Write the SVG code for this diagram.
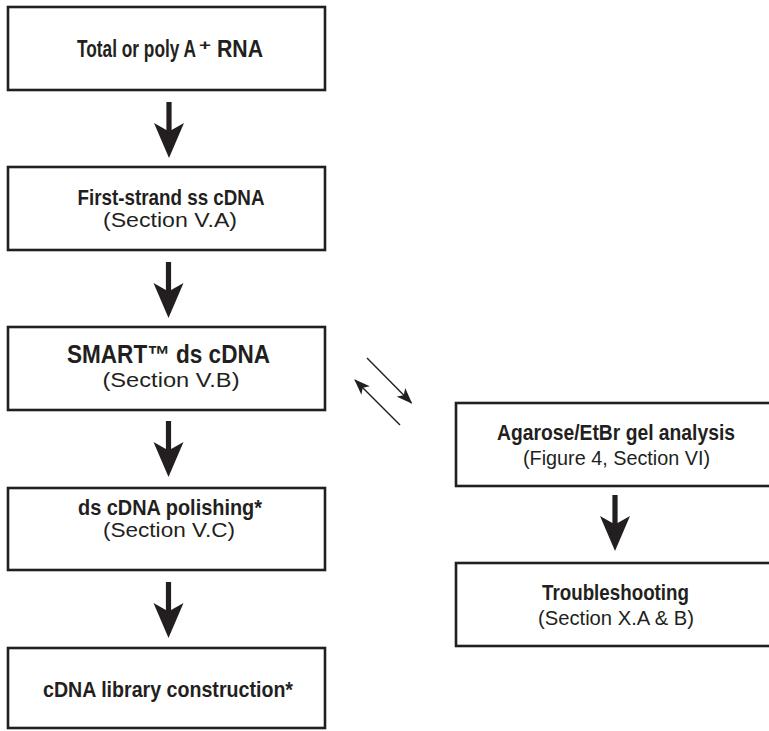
<svg xmlns="http://www.w3.org/2000/svg" width="769" height="731" viewBox="0 0 769 731">
<style>
.box{fill:#fff;stroke:#231f20;stroke-width:2.6}
.t{font-family:"Liberation Sans Narrow","Liberation Sans",Arial,sans-serif;font-weight:bold;fill:#231f20;text-anchor:middle}
.s{font-family:"Liberation Sans Narrow","Liberation Sans",Arial,sans-serif;fill:#231f20;text-anchor:middle;font-size:20.5px}
.arr{fill:#231f20}
.thin{stroke:#231f20;stroke-width:1.4;fill:none}
</style>
<defs>
<path id="bigArrow" d="M-2.6,0 L2.6,0 L2.6,28 L15,21 L0,56 L-15,21 L-2.6,28 Z"/>
<marker id="head" viewBox="0 0 16 12" refX="15" refY="6" markerWidth="16" markerHeight="12" markerUnits="userSpaceOnUse" orient="auto">
<path d="M0,0 L16,6 L0,12 L4,6 Z" fill="#231f20"/>
</marker>
</defs>
<g id="node-rna">
<rect class="box" x="8" y="7" width="317" height="83"/>
<text class="t" x="77" y="57" font-size="23" style="text-anchor:start" textLength="119" lengthAdjust="spacingAndGlyphs">Total or poly A</text>
<text class="t" x="199" y="50" font-size="15" style="text-anchor:start" textLength="12" lengthAdjust="spacingAndGlyphs">+</text>
<text class="t" x="217" y="57" font-size="23" style="text-anchor:start" textLength="46" lengthAdjust="spacingAndGlyphs">RNA</text>
</g>
<g id="node-first">
<rect class="box" x="8" y="167" width="317" height="83"/>
<text class="t" x="171" y="205" font-size="21.5" textLength="187" lengthAdjust="spacingAndGlyphs">First-strand ss cDNA</text>
<text class="s" x="170" y="227" textLength="134" lengthAdjust="spacingAndGlyphs">(Section V.A)</text>
</g>
<g id="node-smart">
<rect class="box" x="8" y="327" width="317" height="83"/>
<text class="t" x="168.5" y="363" font-size="25" textLength="203" lengthAdjust="spacingAndGlyphs">SMART™ ds cDNA</text>
<text class="s" x="171" y="387" textLength="137" lengthAdjust="spacingAndGlyphs">(Section V.B)</text>
</g>
<g id="node-polish">
<rect class="box" x="8" y="488" width="317" height="82"/>
<text class="t" x="170" y="515" font-size="21.5" textLength="184" lengthAdjust="spacingAndGlyphs">ds cDNA polishing*</text>
<text class="s" x="169" y="537" textLength="132" lengthAdjust="spacingAndGlyphs">(Section V.C)</text>
</g>
<g id="node-library">
<rect class="box" x="8" y="648" width="317" height="80"/>
<text class="t" x="168" y="697" font-size="21.5" textLength="250" lengthAdjust="spacingAndGlyphs">cDNA library construction*</text>
</g>
<g id="node-gel">
<rect class="box" x="456" y="403" width="330" height="83"/>
<text class="t" x="616" y="440" font-size="21.5" textLength="238" lengthAdjust="spacingAndGlyphs">Agarose/EtBr gel analysis</text>
<text class="s" x="616.5" y="465" textLength="187" lengthAdjust="spacingAndGlyphs">(Figure 4, Section VI)</text>
</g>
<g id="node-trouble">
<rect class="box" x="456" y="563" width="330" height="83"/>
<text class="t" x="615.5" y="600" font-size="21.5" textLength="147" lengthAdjust="spacingAndGlyphs">Troubleshooting</text>
<text class="s" x="616" y="625" textLength="156" lengthAdjust="spacingAndGlyphs">(Section X.A &amp; B)</text>
</g>
<g id="connectors">
<use href="#bigArrow" class="arr" x="169" y="102"/>
<use href="#bigArrow" class="arr" x="168.5" y="262"/>
<use href="#bigArrow" class="arr" x="168.5" y="421"/>
<use href="#bigArrow" class="arr" x="168.5" y="582"/>
<use href="#bigArrow" class="arr" x="615" y="495"/>
<line class="thin" x1="367" y1="358" x2="411.5" y2="403" marker-end="url(#head)"/>
<line class="thin" x1="400" y1="425" x2="355" y2="380" marker-end="url(#head)"/>
</g>
</svg>
